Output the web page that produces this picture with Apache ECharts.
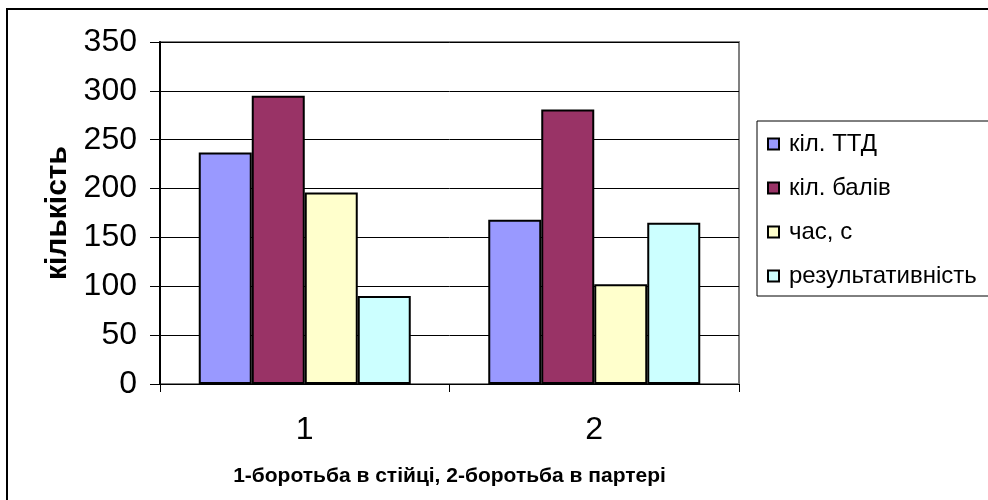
<!DOCTYPE html>
<html>
<head>
<meta charset="utf-8">
<script src="https://cdn.jsdelivr.net/npm/echarts@6/dist/echarts.min.js"></script>
<style>
  html, body { margin: 0; padding: 0; background: #fff; }
  #chart { width: 988px; height: 500px; }
</style>
</head>
<body>
<div id="chart"></div>
<script>
// Categories: 1 — wrestling standing, 2 — wrestling on the ground
const categories = ['1', '2'];

const seriesNames = ['кіл. ТТД', 'кіл. балів', 'час, с', 'результативність'];
const ttdCount   = [237, 168];
const pointCount = [295, 281];
const timeSec    = [196, 102];
const efficiency = [90, 165];

const seriesColors = ['#9999FF', '#993366', '#FFFFCC', '#CCFFFF'];
const yTicks = { min: 0, max: 350, interval: 50 };

const FONT = '"Liberation Sans", Arial, sans-serif';

const chart = echarts.init(document.getElementById('chart'), null, { renderer: 'canvas' });

const values = [ttdCount, pointCount, timeSec, efficiency];

chart.setOption({
  animation: false,
  backgroundColor: '#ffffff',
  graphic: [{
    type: 'rect',
    shape: { x: 7, y: 9, width: 1000, height: 520 },
    style: { fill: 'none', stroke: '#000', lineWidth: 2 },
    z: 100
  }],
  grid: {
    left: 160, top: 42, right: 249, bottom: 116,
    outerBoundsMode: 'none',
    containLabel: false,
    show: true,
    borderColor: '#808080',
    borderWidth: 2,
    backgroundColor: '#ffffff'
  },
  legend: {
    orient: 'vertical',
    left: 757,
    top: 121,
    padding: [11, 80, 8, 10],
    itemGap: 20,
    itemWidth: 11,
    itemHeight: 11,
    icon: 'rect',
    borderColor: '#000',
    borderWidth: 1,
    itemStyle: { borderColor: '#000', borderWidth: 2 },
    textStyle: { fontFamily: FONT, fontSize: 24, color: '#000', padding: [0, 0, 0, 5], lineHeight: 22 },
    data: seriesNames
  },
  xAxis: {
    type: 'category',
    data: categories,
    name: '1-боротьба в стійці, 2-боротьба в партері',
    nameLocation: 'middle',
    nameGap: 82,
    nameTextStyle: { fontFamily: FONT, fontSize: 21, fontWeight: 'bold', color: '#000' },
    axisLine: { lineStyle: { color: '#000', width: 1 } },
    axisTick: { show: true, length: 8, lineStyle: { color: '#000', width: 1 } },
    axisLabel: { fontFamily: FONT, fontSize: 32, color: '#000', margin: 30 }
  },
  yAxis: {
    type: 'value',
    min: yTicks.min,
    max: yTicks.max,
    interval: yTicks.interval,
    name: 'кількість',
    nameLocation: 'middle',
    nameGap: 86,
    nameRotate: 90,
    nameTextStyle: { fontFamily: FONT, fontSize: 30, fontWeight: 'bold', color: '#000' },
    axisLine: { show: true, lineStyle: { color: '#000', width: 2 } },
    axisTick: { show: true, length: 10, lineStyle: { color: '#000', width: 1 } },
    axisLabel: { fontFamily: FONT, fontSize: 32, color: '#000', margin: 23 },
    splitLine: { show: true, lineStyle: { color: '#000', width: 1 } }
  },
  series: seriesNames.map((name, i) => ({
    name: name,
    type: 'bar',
    data: values[i],
    barWidth: 53,
    barGap: '0%',
    itemStyle: { color: seriesColors[i], borderColor: '#000', borderWidth: 2 }
  }))
});
</script>
</body>
</html>
